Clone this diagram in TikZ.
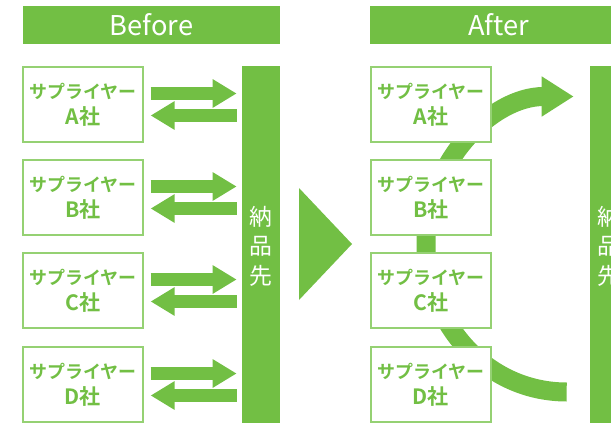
\documentclass[tikz,border=0pt]{standalone}
\usepackage{fontspec}
\setmainfont{Noto Sans CJK JP}[BoldFont={Noto Sans CJK JP Bold}]
\usepackage{tikz}
\usetikzlibrary{arrows.meta,calc,backgrounds}
\definecolor{leafgreen}{HTML}{72BF44}
\definecolor{leafline}{HTML}{95D173}
\newcommand{\firmtag}[1]{{\fontsize{12}{14.8}\selectfont #1社}}
\tikzset{
  headbar/.style={fill=leafgreen, text=white, minimum width=5.14cm, minimum height=0.76cm, inner sep=0pt, font=\fontsize{15.5}{18}\selectfont},
  supplier/.style={draw=leafline, line width=0.7pt, fill=white, text=leafgreen, minimum width=2.4cm, minimum height=1.5cm, align=center, inner sep=0pt, font=\bfseries\fontsize{10.2}{14.8}\selectfont},
  destbar/.style={fill=leafgreen, text=white, minimum width=0.76cm, minimum height=7.2cm, align=center, inner sep=0pt, font=\fontsize{13}{16.8}\selectfont},
  flowarrow/.style={leafgreen, line width=0.26cm, -{Triangle[length=0.48cm, width=0.54cm]}},
  bigflow/.style={leafgreen, line width=0.38cm, -{Triangle[length=0.64cm, width=0.76cm]}}
}

\begin{document}
\begin{tikzpicture}[x=0.02cm, y=-0.02cm]
  \useasboundingbox (0,0) rectangle (611,422);
  \clip (0,0) rectangle (611,422);
  \node[headbar] (before) at (151.5,25) {Before};
  \node[headbar] (after) at (498.5,25) {After};
  \node[destbar] (destB) at (261,246) {納\\品\\先};
  \node[destbar] (destA) at (609,246) {納\\品\\先};
  \foreach \s/\y in {A/104.5,B/197.5,C/290.5,D/384.5} {
    \node[supplier] (b\s) at (83,\y) {サプライヤー\\\firmtag{\s}};
    \node[supplier] (a\s) at (431,\y) {サプライヤー\\\firmtag{\s}};
    \draw[flowarrow] ($(b\s.east)+(7,-11)$) -- ($(b\s.east -| destB.west)+(-5,-11)$);
    \draw[flowarrow] ($(b\s.east -| destB.west)+(-5,11)$) -- ($(b\s.east)+(7,11)$);
  }
  \fill[leafgreen] (299,188) -- (352,244) -- (299,300) -- cycle;
  \begin{scope}[on background layer]
    \draw[bigflow] ($(aD.east -| destA.west)+(-23,7.5)$) to[out=180,in=-90] ($(aB.south)!0.5!(aC.north)+(-5,0)$) to[out=90,in=180] ($(aA.east -| destA.west)+(-16,-8)$);
  \end{scope}
\end{tikzpicture}
\end{document}
